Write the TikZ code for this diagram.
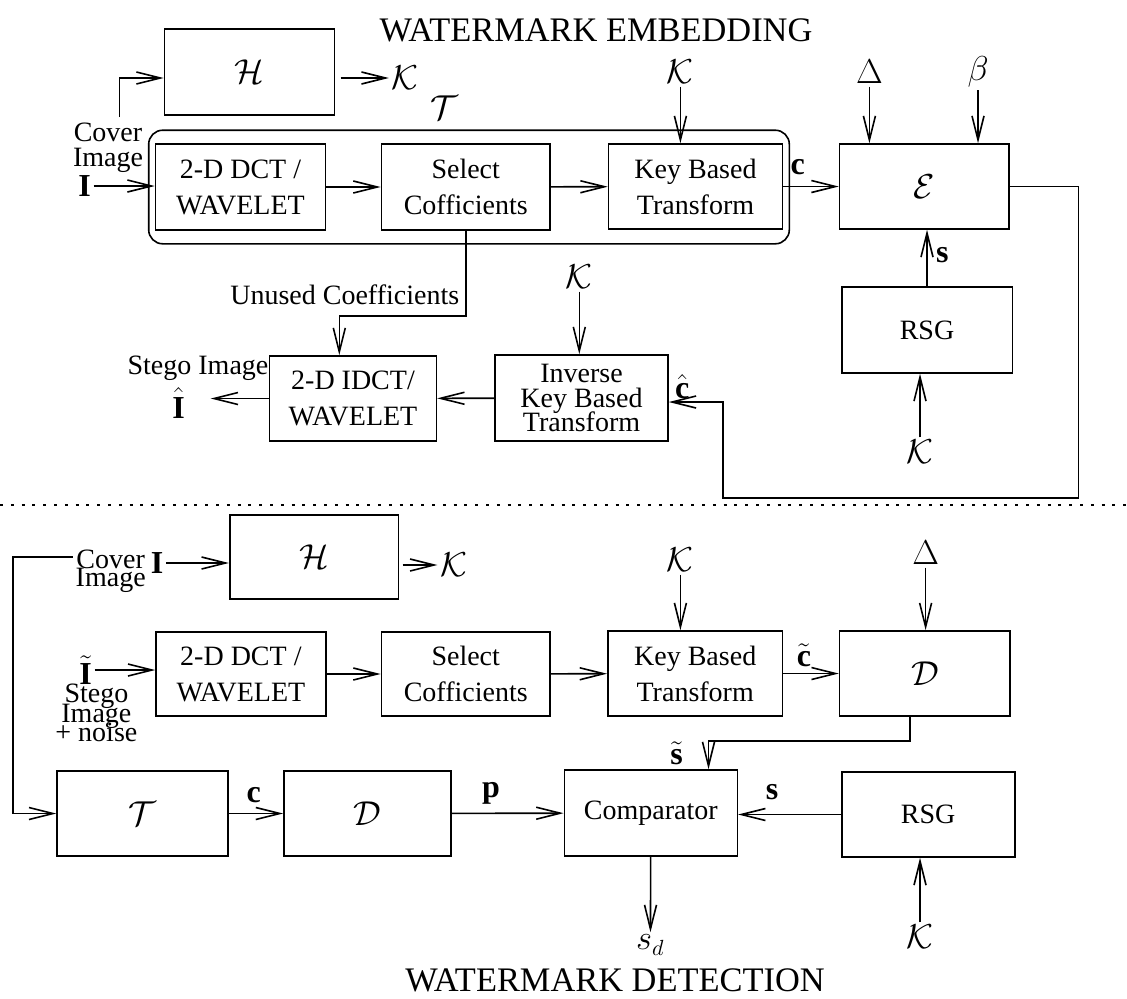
\documentclass[tikz,border=0pt]{standalone}
\usepackage{fontspec}
\setmainfont{Liberation Serif}
\usepackage{xcolor}
\usepackage{tikz}
\usetikzlibrary{arrows.meta, fit}

\begin{document}
\lineskiplimit=-20pt
\begin{tikzpicture}[x=0.5pt, y=-0.5pt, line width=0.8pt,
    font=\fontsize{14}{18}\selectfont,
    >={Straight Barb[length=12pt,width=6pt]},
    blk/.style={draw, align=center, minimum height=42.5pt, inner sep=2pt},
    mblk/.style={blk, font=\fontsize{17}{18}\selectfont},
    lbl/.style={inner sep=1pt, font=\fontsize{16}{18}\selectfont},
    txt/.style={inner sep=1pt, align=center, font=\fontsize{14}{#1}\selectfont},
    ttl/.style={inner sep=0pt, font=\fontsize{17.2}{20}\selectfont}]
  \useasboundingbox (0,0) rectangle (1127,998);

  % embedding
  \node[ttl] (ttlE) at (596,30) {WATERMARK EMBEDDING};
  \node[mblk, minimum width=85pt, minimum height=43pt] (hE) at (249.5,72) {$\mathcal{H}$};
  \node[blk, minimum width=85pt, minimum height=43pt] (dctE) at (240.5,187) {2-D DCT /\\WAVELET};
  \node[blk, minimum width=84.3pt, minimum height=43pt] (selE) at (465.7,187) {Select\\Cofficients};
  \node[blk, minimum width=87pt] (kbtE) at (695.5,186.5) {Key Based\\Transform};
  \node[mblk, minimum width=84.7pt] (encE) at (924.2,186.5) {$\mathcal{E}$};
  \node[blk, minimum width=85.3pt, minimum height=43pt] (rsgE) at (927,330) {RSG};
  \node[blk, minimum width=86.5pt, minimum height=43pt, font=\fontsize{14}{12.25}\selectfont] (ikbtE) at (581.5,398) {Inverse\\Key Based\\Transform};
  \node[blk, minimum width=83.4pt] (idctE) at (353,398.5) {2-D IDCT/\\WAVELET};
  \node[draw, rounded corners=7pt, inner xsep=3pt, inner ysep=6.5pt, fit=(dctE)(kbtE)] (tfrE) {};

  \node[txt=12.5pt] (cvrE) at (108,147.5) {Cover\\Image};
  \node[lbl] (iE) at (84.6,186) {$\mathbf{I}$};
  \node[lbl] (kH) at (405,78) {$\mathcal{K}$};
  \node[lbl] (tlabE) at (444.6,108) {$\mathcal{T}$};
  \node[lbl] (kA) at (680.4,72) {$\mathcal{K}$};
  \node[lbl] (dltE) at (869.4,72) {$\Delta$};
  \node[lbl] (btE) at (978,72) {$\beta$};
  \node[lbl] (cE) at (797.6,167) {$\mathbf{c}$};
  \node[lbl] (sE) at (942.4,255) {$\mathbf{s}$};
  \node[lbl] (kR) at (920,452) {$\mathcal{K}$};
  \node[lbl] (kI) at (579.3,277) {$\mathcal{K}$};
  \node[lbl] (chE) at (682.3,387) {$\hat{\mathbf{c}}$};
  \node[txt=16pt, anchor=east] (unE) at (462,295) {Unused Coefficients};
  \node[txt=16pt] (stgE) at (198,368) {Stego Image};
  \node[lbl] (ihE) at (178.6,403) {$\hat{\mathbf{I}}$};
  \coordinate (hbrE) at (119.6,117);
  \coordinate (unusedE) at (339.3,316);
  \coordinate (loopE) at (1078.3,498);
  \coordinate (loopW) at (722.7,498);
  \coordinate (outE) at (210.7,398.5);

  \draw[->] (iE) -- (iE -| dctE.west);
  \draw[->] (hbrE) |- ([yshift=-3pt]hE.west);
  \draw[->] ([xshift=2.7pt,yshift=-3pt]hE.east) -- (kH);
  \draw[->] (dctE) -- (selE);
  \draw[->] (selE) -- (kbtE);
  \draw[->] (kbtE) -- (encE);
  \draw[->] (kA) -- (kA |- kbtE.north);
  \draw[->] (dltE) -- (dltE |- encE.north);
  \draw[->] (btE) -- (btE |- encE.north);
  \draw[->] (rsgE.north) -- (rsgE.north |- encE.south);
  \draw[->] (kR) -- (kR |- rsgE.south);
  \draw[->] (encE.east) -| (loopE) -- (loopW) |- ([yshift=-2pt]ikbtE.east);
  \draw[->] (kI) -- (kI |- ikbtE.north);
  \draw[->] (ikbtE) -- (idctE);
  \draw[->] (idctE.west) -- (idctE.west -| outE);
  \draw[->] (selE.south) |- (unusedE) -- (unusedE |- idctE.north);

  \draw[line width=1.2pt, dash pattern=on 1.5pt off 3.9pt] (0,505) -- (1127,505);

  % detection
  \node[mblk, minimum width=84.3pt, minimum height=42pt] (hD) at (314,557) {$\mathcal{H}$};
  \node[blk, minimum width=84.8pt, minimum height=42pt] (dctD) at (240.9,674) {2-D DCT /\\WAVELET};
  \node[blk, minimum width=84.3pt, minimum height=42pt] (selD) at (465.7,674) {Select\\Cofficients};
  \node[blk, minimum width=87.4pt] (kbtD) at (695.2,673.5) {Key Based\\Transform};
  \node[mblk, minimum width=85.3pt] (decD) at (924.9,673.5) {$\mathcal{D}$};
  \node[mblk, minimum width=85.4pt] (tD) at (142.5,813.5) {$\mathcal{T}$};
  \node[mblk, minimum width=83.4pt] (dD) at (367.3,813.5) {$\mathcal{D}$};
  \node[blk, minimum width=86.5pt, minimum height=43pt] (cmpD) at (650.8,813) {Comparator};
  \node[blk, minimum width=86.5pt] (rsgD) at (928.2,814.5) {RSG};

  \node[txt=9.2pt] (cvrD) at (110.7,571) {Cover\\Image};
  \node[lbl] (iD) at (157.1,563) {$\mathbf{I}$};
  \node[lbl] (kHD) at (453.6,565) {$\mathcal{K}$};
  \node[lbl] (itD) at (85.7,670) {$\tilde{\mathbf{I}}$};
  \node[txt=9.75pt] (stnD) at (96.4,713) {Stego\\Image\\+ noise};
  \node[lbl] (kD) at (680.4,560) {$\mathcal{K}$};
  \node[lbl] (ctD) at (803.9,655) {$\tilde{\mathbf{c}}$};
  \node[lbl] (dltD) at (925.6,553) {$\Delta$};
  \node[lbl] (stD) at (676.6,753) {$\tilde{\mathbf{s}}$};
  \node[lbl] (cD) at (253.6,795) {$\mathbf{c}$};
  \node[lbl] (pD) at (491,793) {$\mathbf{p}$};
  \node[lbl] (sD) at (772.1,792) {$\mathbf{s}$};
  \node[lbl] (kRD) at (920,937) {$\mathcal{K}$};
  \node[lbl] (sdD) at (650.4,945) {$s_d$};
  \node[ttl] (ttlD) at (615,980) {WATERMARK DETECTION};
  \coordinate (bendD) at (13.2,557);
  \coordinate (bendS) at (708.5,741);

  \draw[->] (cvrD.west |- bendD) -- (bendD) |- (tD.west);
  \draw[->] (iD) -- (iD -| hD.west);
  \draw[->, shorten <=1.8pt] (hD.east |- kHD) -- (kHD);
  \draw[->] (itD) -- (itD -| dctD.west);
  \draw[->] (dctD) -- (selD);
  \draw[->] (selD) -- (kbtD);
  \draw[->] (kbtD) -- (decD);
  \draw[->] (kD) -- (kD |- kbtD.north);
  \draw[->] (dltD) -- (dltD |- decD.north);
  \draw[->] ([xshift=-7.5pt]decD.south) |- (bendS) -- (bendS |- cmpD.north);
  \draw[->] (tD) -- (dD);
  \draw[->] (dD) -- (cmpD);
  \draw[->] (rsgD) -- (rsgD -| cmpD.east);
  \draw[->] (kRD) -- (kRD |- rsgD.south);
  \draw[->] (cmpD) -- (sdD);
\end{tikzpicture}
\end{document}
